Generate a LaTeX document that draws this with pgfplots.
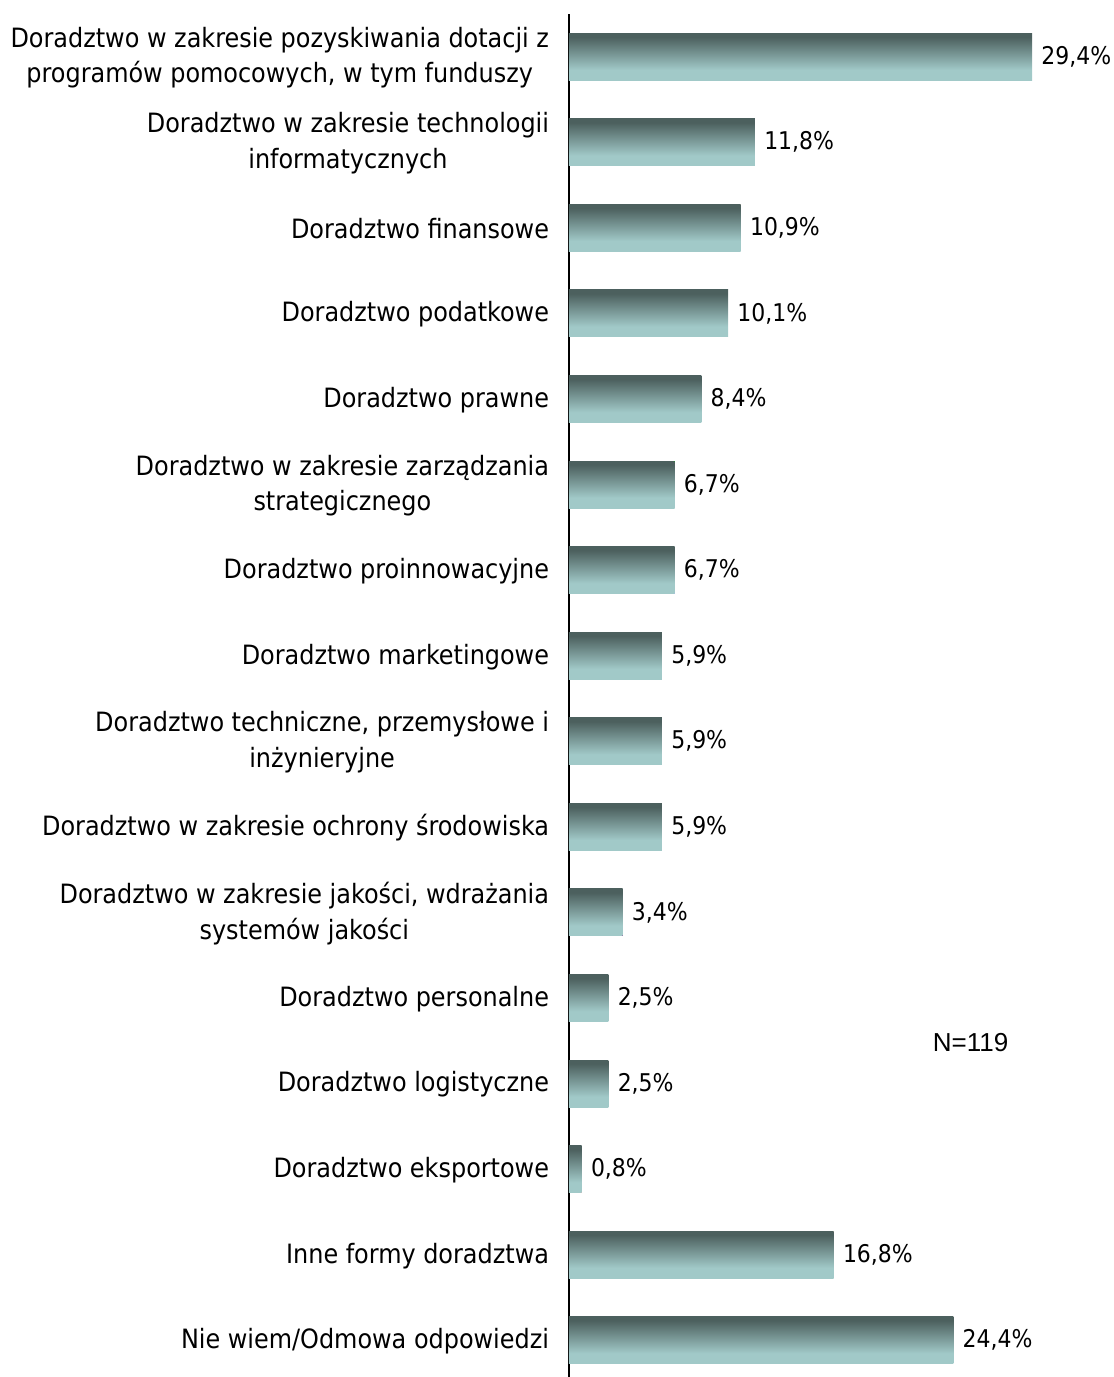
\documentclass[border=0pt]{standalone}
\usepackage{pgfplots}
\pgfplotsset{compat=1.18}
\usepackage{fontspec}
\setmainfont{DejaVu Sans Condensed}
\newfontfamily\arialfont{Liberation Sans}
\definecolor{bardark}{RGB}{76,96,94}
\definecolor{barlight}{RGB}{161,201,200}
\pgfdeclareverticalshading{barshade}{100bp}{color(0bp)=(barlight); color(36bp)=(barlight); color(71bp)=(bardark); color(100bp)=(bardark)}
\begin{document}
\begin{tikzpicture}
\useasboundingbox (0,0) rectangle (557pt,688.5pt);
\begin{axis}[
  scale only axis,
  width=271.7pt, height=681.5pt,
  at={(284.5pt,0pt)}, anchor=south west,
  xmin=0, xmax=34.5,
  ymin=-0.5, ymax=15.43,
  y dir=reverse,
  axis y line=left,
  axis x line=none,
  axis line style={-, line width=1pt, black},
  xbar, bar width=23.5pt, bar shift=0pt,
  every axis plot/.append style={draw=none, shade, shading=barshade, bar shift=0pt},
  ytick={0,...,15},
  yticklabels={
    {Doradztwo w zakresie pozyskiwania dotacji z\\programów pomocowych, w tym funduszy},
    {Doradztwo w zakresie technologii\\informatycznych},
    {Doradztwo finansowe},
    {Doradztwo podatkowe},
    {Doradztwo prawne},
    {Doradztwo w zakresie zarządzania\\strategicznego},
    {Doradztwo proinnowacyjne},
    {Doradztwo marketingowe},
    {Doradztwo techniczne, przemysłowe i\\inżynieryjne},
    {Doradztwo w zakresie ochrony środowiska},
    {Doradztwo w zakresie jakości, wdrażania\\systemów jakości},
    {Doradztwo personalne},
    {Doradztwo logistyczne},
    {Doradztwo eksportowe},
    {Inne formy doradztwa},
    {Nie wiem/Odmowa odpowiedzi}},
  ytick style={draw=none},
  yticklabel style={align=center, font=\fontsize{13.3pt}{17.8pt}\selectfont, inner sep=0pt, xshift=-5.5pt, yshift=-0.5pt},
  nodes near coords={\pgfmathprintnumber{\pgfplotspointmeta}\%},
  nodes near coords style={anchor=west, inner sep=0pt, xshift=4.5pt, font=\fontsize{12.2pt}{15pt}\selectfont, black},
  /pgf/number format/.cd, use comma, fixed, fixed zerofill, precision=1, assume math mode=true,
  /pgfplots/.cd,
  clip=false,
]
\addplot coordinates {(29.4,0)};
\addplot coordinates {(11.8,1)};
\addplot coordinates {(10.9,2)};
\addplot coordinates {(10.1,3)};
\addplot coordinates {(8.4,4)};
\addplot coordinates {(6.7,5)};
\addplot coordinates {(6.7,6)};
\addplot coordinates {(5.9,7)};
\addplot coordinates {(5.9,8)};
\addplot coordinates {(5.9,9)};
\addplot coordinates {(3.4,10)};
\addplot coordinates {(2.5,11)};
\addplot coordinates {(2.5,12)};
\addplot coordinates {(0.8,13)};
\addplot coordinates {(16.8,14)};
\addplot coordinates {(24.4,15)};
\node[font=\arialfont\fontsize{13pt}{15pt}\selectfont] at (axis cs:25.5,11.52) {N=119};
\end{axis}
\end{tikzpicture}
\end{document}
